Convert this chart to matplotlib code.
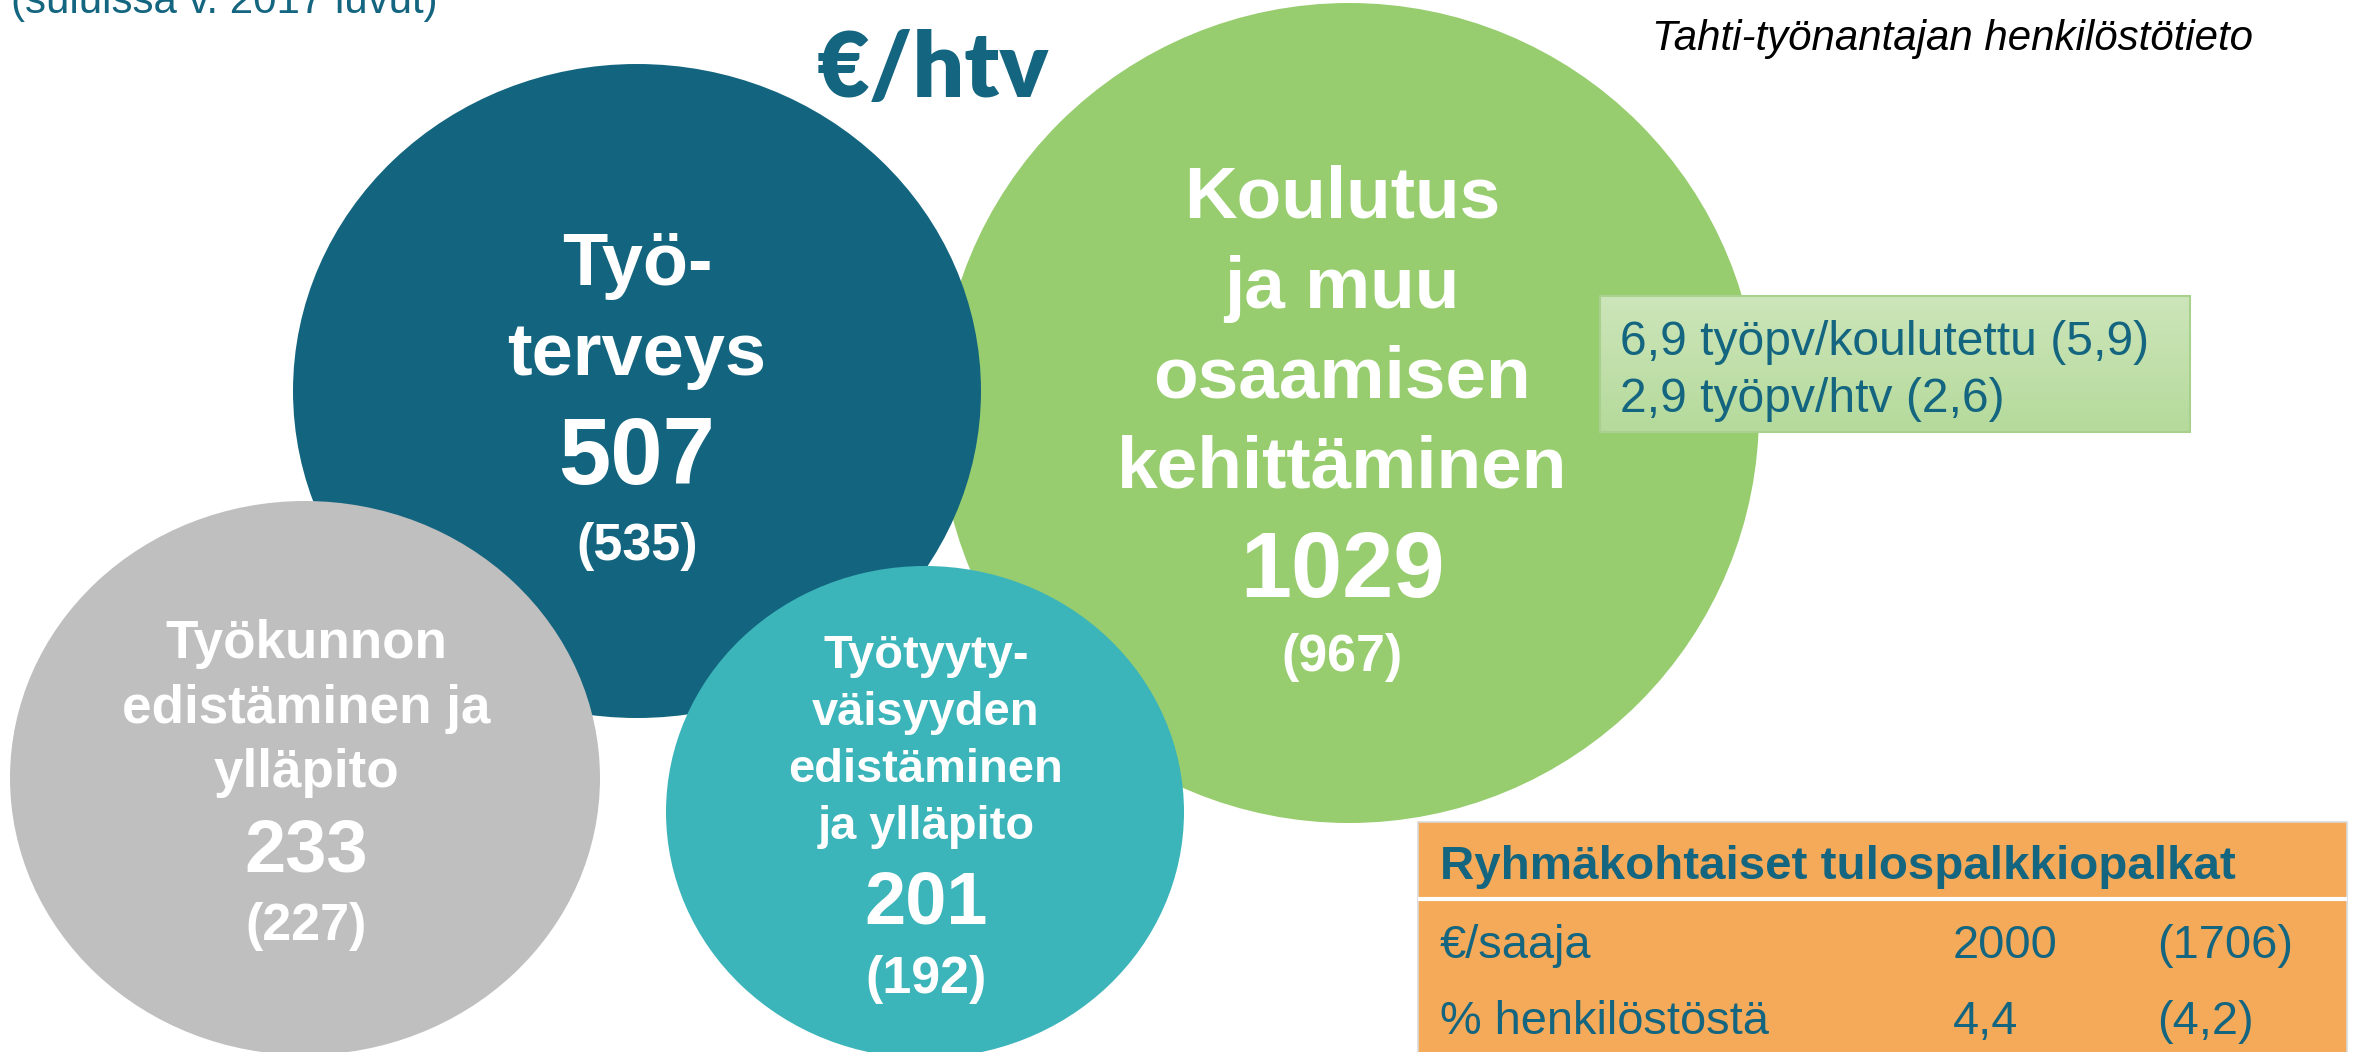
import matplotlib
matplotlib.use("Agg")
import matplotlib.pyplot as plt
from matplotlib.patches import Ellipse, Rectangle
import numpy as np

plt.rcParams['font.family'] = ['Liberation Sans', 'DejaVu Sans']

# ---------------- data ----------------
categories = ['Työ-\nterveys',
              'Koulutus\nja muu\nosaamisen\nkehittäminen',
              'Työkunnon\nedistäminen ja\nylläpito',
              'Työtyyty-\nväisyyden\nedistäminen\nja ylläpito']
values_2018 = [507, 1029, 233, 201]
values_2017 = [535, 967, 227, 192]

training_days_per_trained = [6.9, 5.9]   # current, (previous)
training_days_per_htv = [2.9, 2.6]

table_title = 'Ryhmäkohtaiset tulospalkkiopalkat'
table_rows = ['€/saaja', '% henkilöstöstä']
table_now = [2000, 4.4]
table_prev = [1706, 4.2]

title = '€/htv'
subtitle = '(suluissa v. 2017 luvut)'
source = 'Tahti-työnantajan henkilöstötieto'

# ---------------- layout / style ----------------
W, H = 2361, 1052
DPI = 100
def pt(px):
    return px * 72.0 / DPI

DARK = '#14657F'
colors = ['#13657F', '#97CD6E', '#BFBFBF', '#3BB4BA']
# ellipse layout (center x, center y, rx, ry) in pixel units
shapes = [(637, 391, 344, 327),
          (1349, 413, 410, 410),
          (305, 778, 295, 277),
          (925, 812, 259, 246)]
zorders = [2, 1, 3, 4]
# text layout: label font px, line step, first baseline, number px, number baseline, prev px, prev baseline, cx
text_layout = [(74, 90, 285, 94, 484, 52, 560, 637),
               (73, 90, 218, 92, 597, 52, 671, 1342),
               (53, 64.5, 658, 74, 872, 52, 940, 306),
               (47, 57, 668, 74, 924, 52, 993, 926)]

fig = plt.figure(figsize=(W / DPI, H / DPI), dpi=DPI)
ax = fig.add_axes([0, 0, 1, 1])
ax.set_xlim(0, W)
ax.set_ylim(H, 0)
ax.axis('off')

def fmt(v):
    return ('%g' % v).replace('.', ',')

for i, cat in enumerate(categories):
    cx, cy, rx, ry = shapes[i]
    z = zorders[i]
    ax.add_patch(Ellipse((cx, cy), 2 * rx, 2 * ry, facecolor=colors[i],
                         edgecolor='none', zorder=z))
    lf, step, b0, nf, nb, pf, pb, tx = text_layout[i]
    for j, line in enumerate(cat.split('\n')):
        ax.text(tx, b0 + j * step, line, color='white', fontsize=pt(lf),
                fontweight='bold', ha='center', va='baseline', zorder=z + 10)
    ax.text(tx, nb, str(values_2018[i]), color='white', fontsize=pt(nf),
            fontweight='bold', ha='center', va='baseline', zorder=z + 10)
    ax.text(tx, pb, '(%d)' % values_2017[i], color='white', fontsize=pt(pf),
            fontweight='bold', ha='center', va='baseline', zorder=z + 10)

# title and header texts
ax.text(817, 97, title, color=DARK, fontsize=pt(91), fontweight='heavy',
        family=['Lato', 'DejaVu Sans'], ha='left', va='baseline', zorder=30)
ax.text(11, 13, subtitle, color=DARK, fontsize=pt(42), ha='left',
        va='baseline', zorder=30)
ax.text(1652, 50, source, color='black', fontsize=pt(42), style='italic',
        ha='left', va='baseline', zorder=30)

# green info box
bx0, by0, bx1, by1 = 1600, 296, 2190, 432
grad = np.linspace(0, 1, 100).reshape(-1, 1)
top_c = np.array(matplotlib.colors.to_rgb('#CDE5BA'))
bot_c = np.array(matplotlib.colors.to_rgb('#B5DA9B'))
img = top_c[None, None, :] * (1 - grad[:, :, None]) + bot_c[None, None, :] * grad[:, :, None]
ax.imshow(img, extent=(bx0, bx1, by1, by0), aspect='auto', zorder=20,
          interpolation='bilinear')
ax.add_patch(Rectangle((bx0, by0), bx1 - bx0, by1 - by0, facecolor='none',
                       edgecolor='#A9D18E', lw=1.5, zorder=21))
box_lines = ['%s työpv/koulutettu (%s)' % (fmt(training_days_per_trained[0]), fmt(training_days_per_trained[1])),
             '%s työpv/htv (%s)' % (fmt(training_days_per_htv[0]), fmt(training_days_per_htv[1]))]
for j, line in enumerate(box_lines):
    ax.text(1620, 355 + j * 57, line, color=DARK, fontsize=pt(48),
            ha='left', va='baseline', zorder=22)
ax.set_xlim(0, W)
ax.set_ylim(H, 0)

# orange table
tx0, ty0, tx1 = 1418, 822, 2347
ax.add_patch(Rectangle((tx0, ty0), tx1 - tx0, H - ty0 + 10, facecolor='#F5AA59',
                       edgecolor='#D9D9D9', lw=1.2, zorder=20))
ax.plot([tx0, tx1], [899, 899], color='white', lw=3, zorder=21, solid_capstyle='butt')
ax.text(1440, 879, table_title, color=DARK, fontsize=pt(47.5), fontweight='bold',
        ha='left', va='baseline', zorder=22)
for j, lab in enumerate(table_rows):
    yb = 958 + j * 76
    ax.text(1440, yb, lab, color=DARK, fontsize=pt(47), ha='left', va='baseline', zorder=22)
    ax.text(1953, yb, fmt(table_now[j]), color=DARK, fontsize=pt(47), ha='left',
            va='baseline', zorder=22)
    ax.text(2157, yb, '(%s)' % fmt(table_prev[j]), color=DARK, fontsize=pt(47),
            ha='left', va='baseline', zorder=22)

fig.savefig('out.png', dpi=DPI)
